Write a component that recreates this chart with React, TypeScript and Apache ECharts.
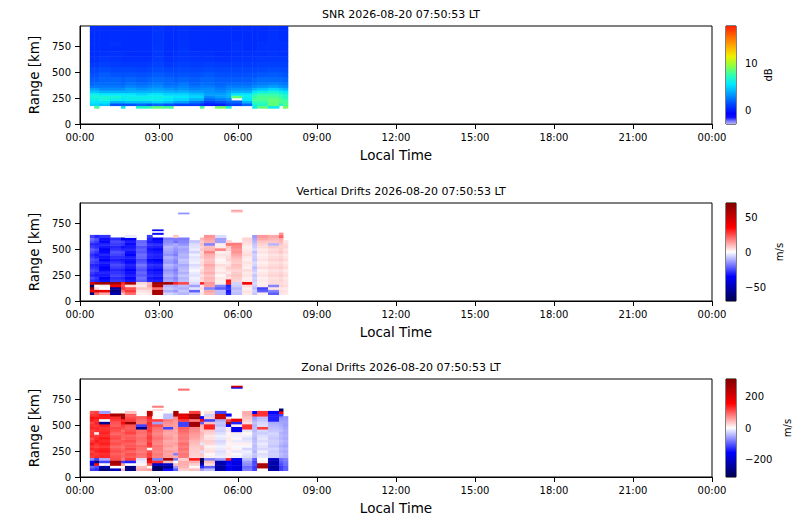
import React, { useEffect, useRef } from "react";
import * as echarts from "echarts";

// ---------- axes / ticks ----------
const timeEdges = [23, 33, 44, 69, 94, 103, 128, 153, 165, 190, 213, 224, 249, 274, 283, 308, 333, 345, 370, 393, 404, 429, 454, 463, 474]; // minutes LT
const timeTicks = [0, 180, 360, 540, 720, 900, 1080, 1260, 1440];
const rangeTicks = [0, 250, 500, 750];
const rangeMax = 945;
const snrGates = [150, 175, 200, 225, 250, 275, 300, 325, 350, 375, 400, 450, 500, 550, 600, 650, 700, 750, 800, 850, 900, 950];
const driftGates = [60, 85, 110, 135, 160, 185, 210, 235, 260, 285, 310, 335, 360, 385, 410, 435, 460, 485, 510, 535, 560, 585, 610, 635];
const snrTicks = [0, 10];
const vertTicks = [-50, 0, 50];
const zonalTicks = [-200, 0, 200];
const snrLimits = [-3, 18];
const vertLimit = 70;
const zonalLimit = 312;

const titles = [
  "SNR 2026-08-20 07:50:53 LT",
  "Vertical Drifts 2026-08-20 07:50:53 LT",
  "Zonal Drifts 2026-08-20 07:50:53 LT",
];
const cbNames = ["dB", "m/s", "m/s"];

// ---------- SNR (dB), one array per time column, gates bottom -> top ----------
const snrDb: (number | null)[][] = [
  [null, 5, 5.5, 6, 6.5, 6, 4.5, 3.5, 2.5, 2, 1.8, 1.5, 1.2, 0.8, 0.6, 0.5, 0.5, 0.5, 0.5, 0.5, 0.5],
  [8, 5, 5.5, 6, 6.5, 6, 4.5, 3.5, 2.5, 2.2, 1.8, 1.5, 1.2, 0.8, 0.6, 0.5, 0.5, 0.5, 0.5, 0.5, 0.5],
  [null, 4.5, 5.5, 6.5, 6.5, 5.5, 4, 3, 2.5, 2.2, 2, 1.8, 1.4, 1, 0.8, 0.6, 0.5, 0.5, 0.5, 0.5, 0.5],
  [null, 1.5, 4, 6, 6.5, 5.5, 4, 3, 2.5, 2.2, 2, 1.6, 1.2, 0.9, 0.7, 0.6, 0.5, 0.6, 0.5, 0.5, 0.5],
  [6, 1.5, 4, 5.5, 6, 5.5, 4, 3, 2.4, 2, 1.8, 1.5, 1.2, 0.8, 0.6, 0.6, 0.5, 0.5, 0.5, 0.5, 0.5],
  [null, 1.5, 4.5, 6, 6, 5.5, 4, 3.5, 2.8, 2.4, 2, 1.6, 1.2, 0.8, 0.6, 0.5, 0.5, 0.5, 0.5, 0.5, 0.5],
  [7, 2, 4.5, 6, 6, 5, 4, 3.2, 2.6, 2.2, 1.8, 1.5, 1.1, 0.8, 0.6, 0.5, 0.5, 0.5, 0.5, 0.5, 0.5],
  [7.5, 1.5, 4.5, 6, 6, 5.5, 4, 3.4, 2.8, 2.4, 2, 1.6, 1.2, 0.9, 0.6, 0.5, 0.5, 0.5, 0.5, 0.5, 0.5],
  [8.5, 2, 5, 6, 6, 5.5, 4.2, 3.5, 3, 2.6, 2.2, 1.8, 1.4, 1.1, 0.9, 0.8, 0.8, 0.7, 0.7, 0.7, 0.7],
  [8, 1.5, 4.5, 5.5, 6, 5, 4, 3.2, 2.6, 2.2, 2, 1.6, 1.2, 0.8, 0.6, 0.5, 0.5, 0.5, 0.5, 0.5, 0.5],
  [null, 1, 3.5, 5, 5.5, 5, 3.8, 3, 2.5, 2.2, 1.8, 1.5, 1.2, 0.9, 0.7, 0.6, 0.5, 0.5, 0.5, 0.5, 0.5],
  [null, 1, 3.5, 5, 5.5, 5, 4, 3.2, 2.8, 2.5, 2, 1.6, 1.3, 1, 0.8, 0.7, 0.7, 0.6, 0.6, 0.6, 0.6],
  [null, 1, 2.5, 4, 5, 4.5, 3.5, 2.8, 2.4, 2, 1.8, 1.5, 1.2, 0.9, 0.7, 0.6, 0.5, 0.5, 0.5, 0.5, 0.5],
  [8, 0.5, 2, 4, 5, 4.5, 3.5, 3, 2.6, 2.4, 2, 1.6, 1.2, 0.9, 0.7, 0.6, 0.5, 0.5, 0.5, 0.5, 0.5],
  [null, 0, 1, 2, 3, 3.5, 3.2, 3, 2.6, 2.2, 2, 1.7, 1.3, 1, 0.7, 0.6, 0.5, 0.5, 0.5, 0.5, 0.5],
  [9, 0, 1.5, 2.5, 3.5, 3.5, 3, 2.6, 2.2, 2, 1.8, 1.5, 1.2, 0.9, 0.6, 0.5, 0.5, 0.5, 0.5, 0.5, 0.5],
  [6.5, 1, 2, 3, 4, 4, 3.5, 3, 2.6, 2.2, 1.8, 1.5, 1.2, 0.9, 0.6, 0.5, 0.5, 0.5, 0.5, 0.5, 0.5],
  [null, 1, 2, null, 8.5, 5.5, 4, 3.2, 2.6, 2.2, 1.8, 1.5, 1.2, 0.9, 0.7, 0.6, 0.6, 0.6, 0.5, 0.5, 0.5],
  [null, 2, 4, 5.5, 6, 5.5, 4, 3.2, 2.6, 2.2, 1.8, 1.5, 1.2, 0.9, 0.7, 0.6, 0.5, 0.5, 0.5, 0.5, 0.5],
  [6, 6.5, 7.5, 8, 7.5, 7, 5.5, 4, 3, 2.4, 2, 1.6, 1.2, 0.9, 0.7, 0.6, 0.5, 0.5, 0.5, 0.5, 0.5],
  [8.5, 7, 7.5, 8, 8, 7.5, 6, 4.5, 3.2, 2.6, 2.2, 1.7, 1.3, 1, 0.8, 0.6, 0.6, 0.6, 0.5, 0.5, 0.5],
  [6, 8.5, 8.5, 8.5, 8, 7.5, 6.5, 5, 3.5, 2.8, 2.2, 1.8, 1.4, 1, 0.8, 0.7, 0.6, 0.6, 0.6, 0.6, 0.6],
  [null, 7, 8, 8, 7.5, 7, 6, 4.5, 3.2, 2.6, 2.2, 1.7, 1.3, 1, 0.8, 0.6, 0.6, 0.6, 0.5, 0.5, 0.5],
  [9, 8, 8, 7.5, 7, 6.5, 5.5, 4, 3, 2.5, 2, 1.6, 1.3, 1, 0.8, 0.6, 0.6, 0.6, 0.5, 0.5, 0.5],
];

// ---------- Vertical drifts (m/s) ----------
const vertDrift: (number | null)[][] = [
  [-60, 40, 65, -65, 45, -28, -25, -30, -27, -25, -28, -30, -26, -24, -27, -29, -25, -22, -27, -30, -24, -20, -26],
  [20, 45, 5, 0, 60, -30, -28, -32, -30, -27, -29, -31, -28, -26, -30, -32, -28, -25, -29, -31, -27, -24, -30],
  [12, 40, 0, 2, 62, -33, -35, -32, -30, -34, -36, -33, -31, -35, -33, -30, -34, -36, -32, -30, -34, -33, -28],
  [-50, -60, -55, 35, 60, -27, -29, -26, -28, -30, -27, -25, -28, -31, -29, -26, -24, -28, -30, -27, -25, -29, null],
  [10, 20, 28, 25, 30, -28, -30, -27, -29, -31, -28, -26, -30, -32, -29, -27, -25, -30, -33, -28, -26, -38, null],
  [20, 28, 24, 5, 58, -32, -34, -31, -33, -35, -32, -30, -34, -33, -31, -35, -33, -30, -32, -34, -31, -36, -3],
  [2, 4, 8, 3, 5, -22, -20, -23, -21, -24, -22, -19, -23, -25, -21, -20, -23, -22, -24, -20, -21, null, null],
  [3, 5, 8, 12, 10, -30, -32, -29, -31, -33, -30, -28, -32, -34, -30, -29, -31, -33, -30, -28, -32, -30, -27],
  [58, 60, 20, 55, 62, -31, -33, -30, -32, -34, -31, -29, -33, -35, -31, -30, -32, -34, -31, -29, -33, -36, null],
  [-6, -12, -8, -10, 60, -12, -14, -11, -13, -15, -12, -10, -14, -13, -11, -15, -13, -12, -10, -14, -16, -18, null],
  [-8, -14, -10, -12, 30, -15, -17, -14, -16, -18, -15, -13, -17, -16, -14, -18, -16, -15, -13, -12, -20, -18, 8],
  [-10, -8, -11, -9, 25, -9, -10, -8, -11, -9, -10, -12, -9, -8, -11, -10, -12, -13, -11, -15, -17, -18, null],
  [-6, -22, -4, -13, -5, -3, -2, -4, -3, -1, -3, -5, -2, -3, -4, -2, -6, -3, -4, -5, -8, null, null],
  [4, 2, 5, 3, 30, 5, 6, 4, 7, 5, 3, 6, 5, 4, 7, 6, 5, 8, 6, 9, 7, 10, null],
  [10, 12, -17, 13, 14, 9, 10, 8, 11, 9, 10, 12, 9, 8, 10, 11, 17, 10, 9, -17, 11, 13, 15],
  [-9, -9, -22, -17, 2, 2, 3, 1, 4, 2, 3, 5, 2, 1, 3, 4, 2, 17, 3, 2, -13, -13, -5],
  [-30, -32, -28, -30, 30, 32, 4, 6, 3, 5, 7, 4, 3, 6, 5, 4, 3, 6, 8, 20, 6, null, null],
  [-9, -8, -10, -7, -6, 6, 7, 8, 7, 6, 8, 9, 7, 8, 10, 12, 15, 14, 16, 18, null, null, null],
  [3, 4, 2, 5, 38, 3, 2, 4, 3, 5, 2, 3, 4, 2, 3, 5, 4, 3, 2, 4, 5, 6, null],
  [-8, -6, -9, -7, -5, -7, -6, -8, -5, -7, -9, -6, -5, -8, -7, -6, -9, -5, -7, -8, -10, -12, -14],
  [2, -22, -26, 3, 2, 3, 2, 4, 3, 2, 5, 3, 2, 4, 3, 2, 4, 3, 5, 6, 8, 12, 14],
  [-22, -17, 4, -17, 5, 5, 4, 6, 5, 4, 6, 5, 4, 6, 5, 4, 6, 5, 7, -10, 8, 10, 12],
  [4, 5, 3, 6, 5, 6, 5, 7, 6, 5, 7, 6, 5, 7, 6, 5, 8, 7, 6, 8, 10, 12, 22],
  [3, 4, 3, 5, 4, 4, 3, 5, 4, 3, 5, 4, 3, 5, 4, 3, 5, 4, 6, 5, 4, null, null],
];
// isolated echoes: [column index, range from, range to, value]
const vertIsolated: [number, number, number, number][] = [
  [8, 640, 655, -33], [8, 676, 688, -35], [11, 838, 850, -15],
  [17, 853, 865, 6], [17, 865, 877, 13], [22, 635, 657, 15],
];

// ---------- Zonal drifts (m/s) ----------
const zonalDrift: (number | null)[][] = [
  [-120, -95, -200, -160, -70, 120, 130, 115, 135, 125, 140, 120, 110, 130, 125, 118, 135, 128, 115, 140, 150, 125, 110],
  [-130, -110, 150, -270, -117, 128, 122, 135, 130, 118, 127, 140, 133, 122, 10, 128, 132, 125, 138, 130, 145, 128, 120],
  [-270, -230, 0, -117, -50, 132, 128, 140, 135, 125, 138, 130, 142, 128, 136, 130, 125, 138, -250, 0, 140, 145, -60],
  [-220, 0, 250, 270, 110, 105, 98, 110, 102, 95, 108, 100, 112, 104, 96, 108, 115, 100, 106, 120, 130, 260, null],
  [40, 5, 60, -120, 80, 95, 90, 100, 92, 88, 98, 105, 92, 96, 100, 90, 110, 120, 150, 130, 285, 280, null],
  [-270, -270, 0, -137, 120, 100, 108, 95, 112, 104, 98, 110, 102, 96, 115, 108, 100, 105, 280, 120, 110, 100, 40],
  [50, 40, 5, -10, -20, 85, 90, 82, 88, 95, 80, 86, 92, 84, 90, 88, -260, -117, 85, 90, 100, null, null],
  [60, 0, 100, 150, 200, 115, 120, 110, 0, 118, 125, 112, 120, 115, 108, 122, 118, 125, 130, 120, 135, 228, 230],
  [-290, -290, -200, 130, -78, 78, 82, 75, 80, 85, 72, 78, 88, 80, 76, 82, 90, 110, -58, 120, 5, null, null],
  [-150, -250, -200, 40, 270, 58, 55, 62, 50, 60, 56, 52, 65, 58, 54, 60, -117, 62, 70, 80, -39, -39, null],
  [-100, -60, 40, 0, -80, 50, -78, 55, 48, 52, 58, 50, 54, 48, 56, 52, 60, 58, 62, 66, 70, 265, 270],
  [30, 45, 50, 50, 30, 80, 85, 78, 88, 82, 90, 76, 84, 80, 86, 92, 100, -117, -117, 120, 180, 190, null],
  [40, 5, 30, 50, 140, 25, 28, 30, 32, 35, 40, 45, 55, 60, 65, 70, 75, 270, 270, 80, 270, 270, 120],
  [-60, -130, -200, -300, -300, 30, 35, -20, 40, 38, -15, 32, 36, 40, 45, 38, 42, 50, -100, 150, -150, null, null],
  [-40, -97, 20, 40, -78, 10, 5, 20, 15, 8, 25, 30, 20, 15, 28, 35, 137, 137, 40, -117, 30, -30, 20],
  [-230, -240, -220, -230, -60, -10, -15, -20, -12, -8, -18, -25, -15, -10, -20, -30, -25, -40, -35, -50, 228, 228, -117],
  [-156, -160, -150, -156, 140, 10, 12, 8, 15, 10, 5, 12, 14, 10, 8, 15, 12, -156, 270, 117, 20, -156, null],
  [-180, -185, -175, -180, -170, -10, 5, -15, 8, -5, 10, -12, 5, -8, 12, -170, -165, 10, -137, 180, null, null, null],
  [-80, -90, -70, -60, -40, -20, -15, -10, -25, -5, 10, -15, -20, -10, 5, -15, 126, 126, 20, 30, 40, 48, 50],
  [-117, -120, -110, -115, -100, -40, -35, -45, -38, -42, -36, -40, -44, -38, -35, -42, -40, -45, -38, -50, -60, 137, -156],
  [0, 260, 270, 10, 0, -15, -20, -10, -25, -18, -12, -22, -15, -20, -30, -25, 120, -20, -25, -35, -40, 126, 126],
  [-230, -240, -220, -235, -200, -30, -28, -32, -25, -35, -30, -28, -33, -30, -26, -34, -40, -45, -50, -137, -137, -137, -156],
  [-117, -120, -110, -100, -90, -45, -40, -48, -42, -50, -44, -38, -46, -42, -48, -40, -45, -50, -55, -60, -70, -117, 156],
  [-97, -100, -90, -85, -80, -50, -48, -52, -45, -55, -50, -46, -54, -48, -52, -50, -55, -60, -58, -62, -65, null, null],
];
const zonalIsolated: [number, number, number, number][] = [
  [8, 640, 652, 25], [8, 670, 685, 80], [11, 835, 850, 90],
  [17, 854, 866, -156], [17, 866, 878, 210], [22, 635, 658, -290],
];

// ---------- colour maps ----------
const snrStops: [number, string][] = [
  [-3, "#b4b4f5"], [-2.3, "#7070ff"], [-1.6, "#1010ff"], [-0.8, "#0000ff"], [1.5, "#0050ff"],
  [3.5, "#00a0ff"], [5.5, "#00e8ff"], [7.5, "#30ffb0"], [9.5, "#90ff40"], [11.5, "#f0f000"],
  [14, "#ffa000"], [16, "#ff6000"], [18, "#ff2000"],
];
const seismicColors = ["#00004d", "#0000ff", "#ffffff", "#ff0000", "#800000"];
const seismicStops = (lim: number): [number, string][] =>
  seismicColors.map((c, i) => [-lim + (i * lim) / 2, c] as [number, string]);

function makeCmap(stops: [number, string][]) {
  const p = stops.map(([v, c]) => [v, parseInt(c.slice(1, 3), 16), parseInt(c.slice(3, 5), 16), parseInt(c.slice(5, 7), 16)]);
  return (v: number) => {
    let k = 0;
    if (v <= p[0][0]) k = 0;
    else if (v >= p[p.length - 1][0]) return `rgb(${p[p.length - 1][1]},${p[p.length - 1][2]},${p[p.length - 1][3]})`;
    else while (k < p.length - 2 && v > p[k + 1][0]) k++;
    const a = p[k], b = p[k + 1];
    const t = Math.max(0, Math.min(1, (v - a[0]) / (b[0] - a[0])));
    const ch = (j: number) => Math.round(a[j] + (b[j] - a[j]) * t);
    return `rgb(${ch(1)},${ch(2)},${ch(3)})`;
  };
}

function buildCells(cols: (number | null)[][], gates: number[], isolated: [number, number, number, number][] = []) {
  const out: number[][] = [];
  cols.forEach((col, c) => {
    col.forEach((v, i) => {
      if (v !== null && v !== undefined) out.push([timeEdges[c], timeEdges[c + 1], gates[i], gates[i + 1], v]);
    });
  });
  isolated.forEach(([c, r0, r1, v]) => out.push([timeEdges[c], timeEdges[c + 1], r0, r1, v]));
  return out;
}

const FONT = "'DejaVu Sans', 'Liberation Sans', sans-serif";
const pad = (n: number) => (n < 10 ? "0" + n : "" + n);
const fmtTime = (v: number) => `${pad(Math.floor(v / 60) % 24)}:${pad(Math.round(v % 60))}`;
const fmtCb = (v: number) => String(v).replace("-", "\u2212");

export default function App() {
  const ref = useRef<HTMLDivElement>(null);
  useEffect(() => {
    if (!ref.current) return;
    const chart = echarts.init(ref.current, null, { renderer: "svg" });

    const tops = [26, 203, 379];
    const H = 98;
    const panels = [
      { cells: buildCells(snrDb, snrGates), stops: snrStops, lim: snrLimits, ticks: snrTicks },
      { cells: buildCells(vertDrift, driftGates, vertIsolated), stops: seismicStops(vertLimit), lim: [-vertLimit, vertLimit], ticks: vertTicks },
      { cells: buildCells(zonalDrift, driftGates, zonalIsolated), stops: seismicStops(zonalLimit), lim: [-zonalLimit, zonalLimit], ticks: zonalTicks },
    ];
    const cbGaps = [27, 38, 46];

    const grid: any[] = [];
    const xAxis: any[] = [];
    const yAxis: any[] = [];
    const series: any[] = [];
    const title: any[] = [];

    panels.forEach((pn, k) => {
      grid.push({ left: 80, width: 632, top: tops[k], height: H, show: true, borderColor: "#000", borderWidth: 1, backgroundColor: "transparent", outerBoundsMode: "none" });
      xAxis.push({
        type: "value", gridIndex: k, min: 0, max: 1440,
        axisLine: { show: true, lineStyle: { color: "#000", width: 1 } },
        axisTick: { show: true, length: 5, customValues: timeTicks, lineStyle: { color: "#000", width: 1 } },
        axisLabel: { customValues: timeTicks, formatter: fmtTime, color: "#000", fontSize: 10, margin: 8, fontFamily: FONT },
        splitLine: { show: false },
        name: "Local Time", nameLocation: "middle", nameGap: 24,
        nameTextStyle: { color: "#000", fontSize: 13.5, fontFamily: FONT },
      });
      yAxis.push({
        type: "value", gridIndex: k, min: 0, max: rangeMax,
        axisLine: { show: true, lineStyle: { color: "#000", width: 1 } },
        axisTick: { show: true, length: 5, customValues: rangeTicks, lineStyle: { color: "#000", width: 1 } },
        axisLabel: { customValues: rangeTicks, color: "#000", fontSize: 10, margin: 9, fontFamily: FONT },
        splitLine: { show: false },
        name: "Range [km]", nameLocation: "middle", nameGap: 37, nameRotate: 90,
        nameTextStyle: { color: "#000", fontSize: 13.5, fontFamily: FONT },
      });
      title.push({
        text: titles[k], left: 396, top: tops[k] - 22, textAlign: "center",
        textStyle: { fontSize: 11, fontWeight: "normal", color: "#000", fontFamily: FONT },
      });
      const cmap = makeCmap(pn.stops);
      series.push({
        type: "custom", xAxisIndex: k, yAxisIndex: k, clip: true,
        encode: { x: [0, 1], y: [2, 3] },
        data: pn.cells,
        renderItem: (params: any, api: any) => {
          const p0 = api.coord([api.value(0), api.value(2)]);
          const p1 = api.coord([api.value(1), api.value(3)]);
          return {
            type: "rect",
            shape: { x: p0[0] - 0.25, y: p1[1] - 0.25, width: p1[0] - p0[0] + 0.5, height: p0[1] - p1[1] + 0.5 },
            style: { fill: cmap(api.value(4)) },
          };
        },
      });
    });

    // colorbars
    panels.forEach((pn, k) => {
      const gi = 3 + k;
      const [lo, hi] = pn.lim;
      grid.push({ left: 726, width: 10, top: tops[k], height: H, show: true, borderColor: "#000", borderWidth: 1, backgroundColor: "transparent", outerBoundsMode: "none" });
      xAxis.push({ type: "value", gridIndex: gi, min: 0, max: 1, show: false });
      yAxis.push({
        type: "value", gridIndex: gi, min: lo, max: hi, position: "right",
        axisLine: { show: false },
        axisTick: { show: true, length: 5, customValues: pn.ticks, lineStyle: { color: "#000", width: 1 } },
        axisLabel: { customValues: pn.ticks, formatter: fmtCb, color: "#000", fontSize: 10, margin: 9, fontFamily: FONT },
        splitLine: { show: false },
        name: cbNames[k], nameLocation: "middle", nameGap: cbGaps[k], nameRotate: 90,
        nameTextStyle: { color: "#000", fontSize: 10, fontFamily: FONT },
      });
      const colorStops = pn.stops.map(([v, c]) => ({ offset: (v - lo) / (hi - lo), color: c }));
      series.push({
        type: "custom", xAxisIndex: gi, yAxisIndex: gi, clip: true,
        data: [[0, lo, 1, hi]],
        encode: { x: [0, 2], y: [1, 3] },
        renderItem: (params: any, api: any) => {
          const a = api.coord([api.value(0), api.value(1)]);
          const b = api.coord([api.value(2), api.value(3)]);
          return {
            type: "rect",
            shape: { x: a[0], y: b[1], width: b[0] - a[0], height: a[1] - b[1] },
            style: { fill: new echarts.graphic.LinearGradient(0, 1, 0, 0, colorStops) },
          };
        },
      });
    });

    chart.setOption({
      animation: false,
      backgroundColor: "#fff",
      textStyle: { fontFamily: FONT },
      title, grid, xAxis, yAxis, series,
    });
    return () => chart.dispose();
  }, []);
  return <div ref={ref} style={{ position: "absolute", left: 0, top: 0, width: 800, height: 519 }} />;
}
